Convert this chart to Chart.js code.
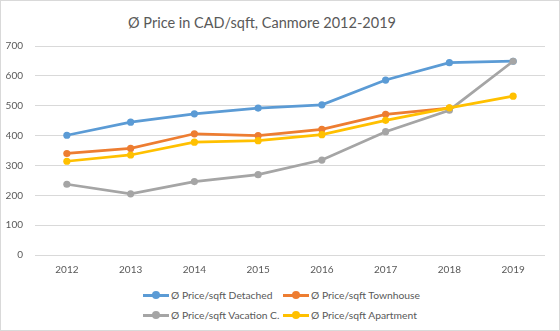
<!DOCTYPE html>
<html>
<head>
<meta charset="utf-8">
<script src="https://cdn.jsdelivr.net/npm/chart.js@4"></script>
<style>
  body { margin: 0; background: #fff; }
  #box {
    position: relative; width: 558px; height: 329px;
    border: 1px solid #d9d9d9; background: #fff;
    font-family: Lato, "Open Sans", sans-serif; color: #595959;
  }
  #title {
    position: absolute; top: 12px; left: 0; width: 522px;
    text-align: center; font-size: 14.5px; line-height: 20px;
  }
  #plot { position: absolute; left: 0; top: 27px; width: 558px; height: 257px; }
  #legend {
    position: absolute; top: 284px; left: 142px;
    display: grid; grid-template-columns: 140px 140px; grid-auto-rows: 20px;
    font-size: 10.3px;
  }
  #legend .item { display: flex; align-items: center; white-space: nowrap; }
  #legend .mk { position: relative; width: 26px; height: 10px; margin-right: 2px; }
  #legend .mk::before {
    content: ''; position: absolute; left: 0; right: 0; top: 4px; height: 3px; background: var(--c);
  }
  #legend .mk::after {
    content: ''; position: absolute; left: 9px; top: 1px; width: 8px; height: 8px;
    border-radius: 50%; background: var(--c);
  }
</style>
</head>
<body>
<div id="box">
  <div id="title">Ø Price in CAD/sqft, Canmore 2012-2019</div>
  <div id="plot"><canvas id="price-chart"></canvas></div>
  <div id="legend"></div>
</div>
<script>
const years = ['2012', '2013', '2014', '2015', '2016', '2017', '2018', '2019']
const detached = [401, 445, 473, 492, 503, 586, 644, 649]
const townhouse = [340, 357, 406, 400, 421, 471, 492, null]
const vacation = [237, 205, 246, 269, 318, 413, 485, 649]
const apartment = [314, 335, 378, 383, 403, 451, 493, 532]

const seriesNames = ['Ø Price/sqft Detached', 'Ø Price/sqft Townhouse', 'Ø Price/sqft Vacation C.', 'Ø Price/sqft Apartment']
const seriesValues = [detached, townhouse, vacation, apartment]
// Office palette
const seriesColors = ['#5b9bd5', '#ed7d31', '#a5a5a5', '#ffc000']

const priceConfig = {
  type: 'line',
  data: {
    labels: years,
    datasets: seriesValues.map((values, i) => ({
      label: seriesNames[i],
      data: values,
      borderColor: seriesColors[i],
      backgroundColor: seriesColors[i],
      borderWidth: 2.75,
      pointRadius: 3.6,
      pointBorderWidth: 0,
      pointHoverRadius: 3.6,
      tension: 0,
      // later series sit on top, like the spreadsheet draws them
      order: seriesValues.length - i,
    })),
  },
  options: {
    responsive: true,
    maintainAspectRatio: false,
    animation: false,
    layout: { padding: { top: 8, right: 14, bottom: 0, left: 5 } },
    plugins: {
      legend: { display: false },
      tooltip: { enabled: false },
    },
    scales: {
      x: {
        offset: true,
        grid: { display: false, drawTicks: false },
        border: { display: false },
        ticks: { color: '#595959', font: { family: 'Lato', size: 10 }, padding: 9 },
      },
      y: {
        min: 0,
        max: 700,
        grid: { color: '#d9d9d9', drawTicks: false },
        border: { display: false },
        ticks: { stepSize: 100, color: '#595959', font: { family: 'Lato', size: 10 }, padding: 12 },
        // keep the axis narrow so the plot starts close to the labels
        afterFit(scale) { scale.width = 29 },
      },
    },
  },
}

const priceCanvas = document.getElementById('price-chart')
window.priceChart = new Chart(priceCanvas, priceConfig)

// the canvas legend can't do a 2x2 grid, so build it in html
const legendEl = document.getElementById('legend')
priceChart.data.datasets.forEach(ds => {
  const item = document.createElement('div')
  item.className = 'item'
  const mk = document.createElement('span')
  mk.className = 'mk'
  mk.style.setProperty('--c', ds.borderColor)
  item.appendChild(mk)
  item.appendChild(document.createTextNode(ds.label))
  legendEl.appendChild(item)
})
</script>
</body>
</html>
